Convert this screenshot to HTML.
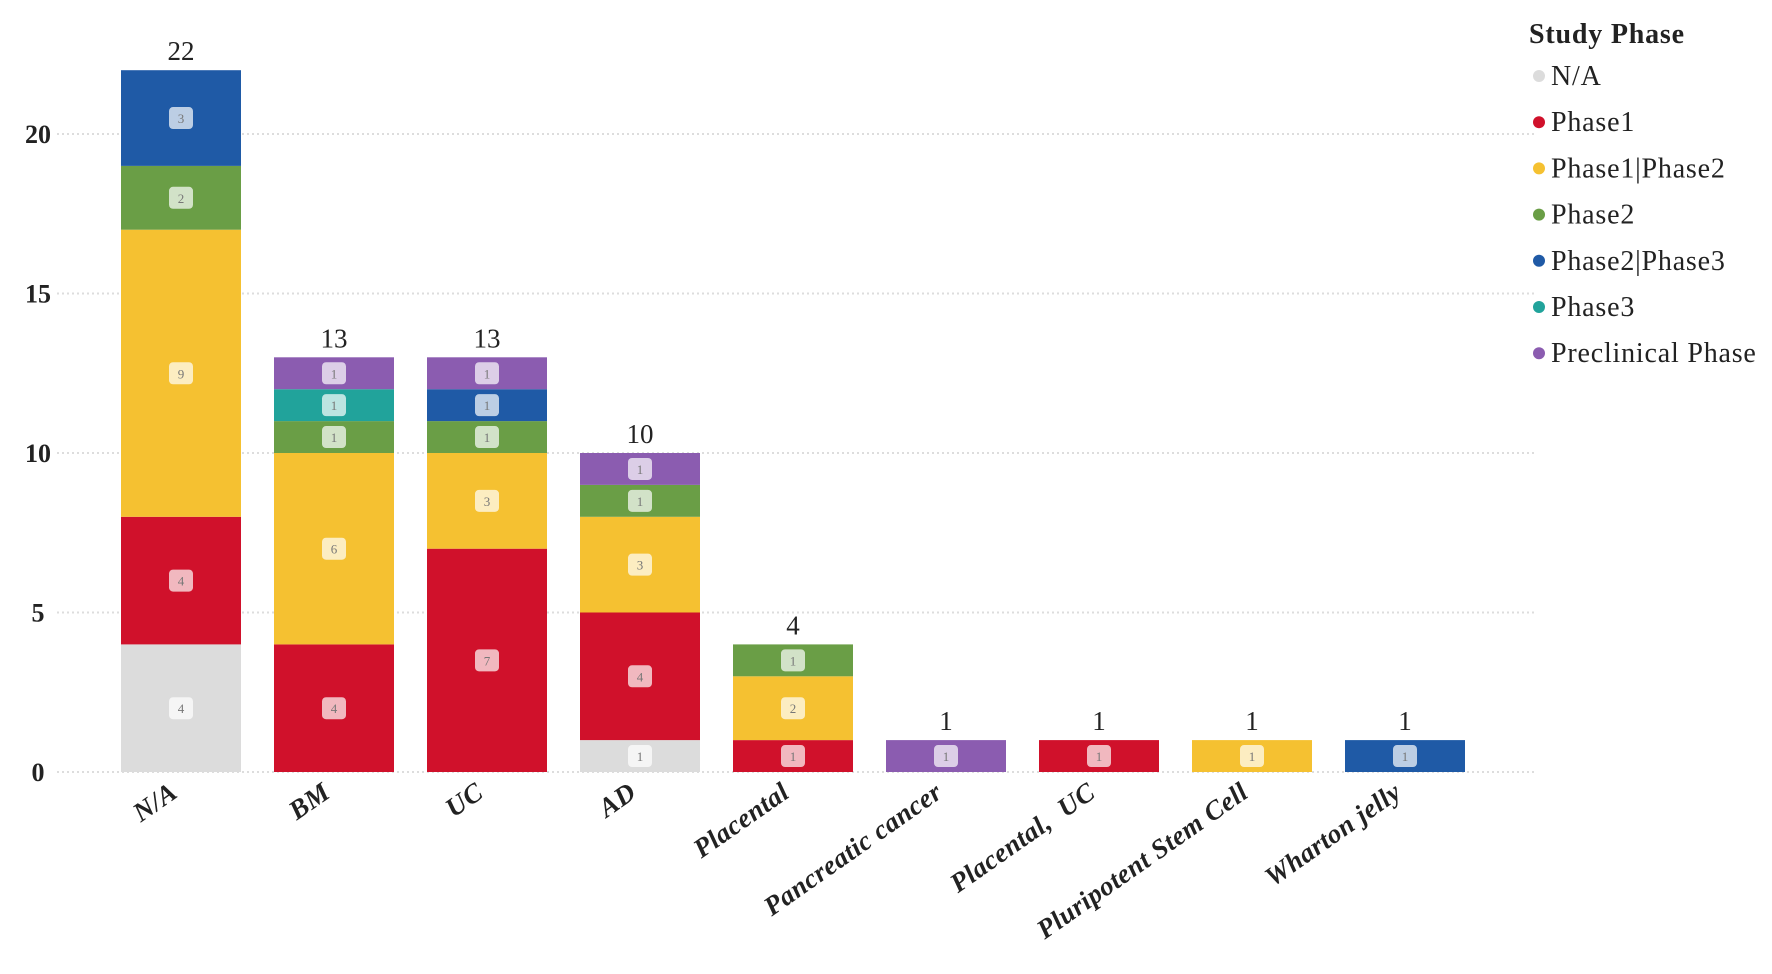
<!DOCTYPE html>
<html><head><meta charset="utf-8"><style>
html,body{margin:0;padding:0;background:#fff;width:1772px;height:974px;overflow:hidden}
svg{display:block;font-family:"Liberation Serif",serif}
</style></head><body>
<svg id="c" width="1772" height="974" viewBox="0 0 1772 974" xmlns="http://www.w3.org/2000/svg"></svg>
<script>
const C={na:'#dcdcdc',p1:'#d0112b',p12:'#f5c131',p2:'#6a9e46',p23:'#1f5aa6',p3:'#21a39b',pre:'#8b5cb0'};
const data=[
['N/A',[['na',4],['p1',4],['p12',9],['p2',2],['p23',3]]],
['BM',[['p1',4],['p12',6],['p2',1],['p3',1],['pre',1]]],
['UC',[['p1',7],['p12',3],['p2',1],['p23',1],['pre',1]]],
['AD',[['na',1],['p1',4],['p12',3],['p2',1],['pre',1]]],
['Placental',[['p1',1],['p12',2],['p2',1]]],
['Pancreatic cancer',[['pre',1]]],
['Placental,  UC',[['p1',1]]],
['Pluripotent Stem Cell',[['p12',1]]],
['Wharton jelly',[['p23',1]]]];
const y0=772,u=31.9,bw=120;
let s='';
for(let v=0;v<=20;v+=5){const y=y0-v*u;
 s+=`<line x1="57" x2="1537" y1="${y}" y2="${y}" stroke="#ddd" stroke-width="2" stroke-dasharray="2,3"/>`;
 s+=`<text x="38" y="${y+9}" font-size="26" font-weight="bold" text-anchor="middle" fill="#222">${v}</text>`;}
data.forEach((d,i)=>{const cx=181+i*153,x=cx-bw/2;let acc=0;
 d[1].forEach(([k,n])=>{const yt=y0-(acc+n)*u;
  s+=`<rect x="${x}" y="${yt}" width="${bw}" height="${n*u}" fill="${C[k]}"/>`;
  const cy=yt+n*u/2;
  s+=`<rect x="${cx-12}" y="${cy-11}" width="24" height="22" rx="4" fill="#fff" fill-opacity="0.7"/>`;
  s+=`<text x="${cx}" y="${cy+5}" font-size="13" text-anchor="middle" fill="#777">${n}</text>`;
  acc+=n;});
 s+=`<text x="${cx}" y="${y0-acc*u-10}" font-size="27" text-anchor="middle" fill="#222">${acc}</text>`;
 s+=`<text transform="translate(${cx-2},${y0+24}) rotate(-35)" font-size="27" letter-spacing="0.5" font-weight="bold" font-style="italic" text-anchor="end" fill="#222">${d[0].replace(/ /g,'&#160;')}</text>`;
});
s+=`<text x="1529" y="43" font-size="28" letter-spacing="0.8" font-weight="bold" fill="#222">Study Phase</text>`;
const L=[['na','N/A'],['p1','Phase1'],['p12','Phase1|Phase2'],['p2','Phase2'],['p23','Phase2|Phase3'],['p3','Phase3'],['pre','Preclinical Phase']];
L.forEach(([k,t],i)=>{const y=76+i*46.2;
 s+=`<circle cx="1539" cy="${y}" r="6" fill="${C[k]}"/>`;
 s+=`<text x="1551" y="${y+9}" font-size="28" letter-spacing="0.8" fill="#222">${t}</text>`;});
document.getElementById('c').innerHTML=s;
</script>
</body></html>
